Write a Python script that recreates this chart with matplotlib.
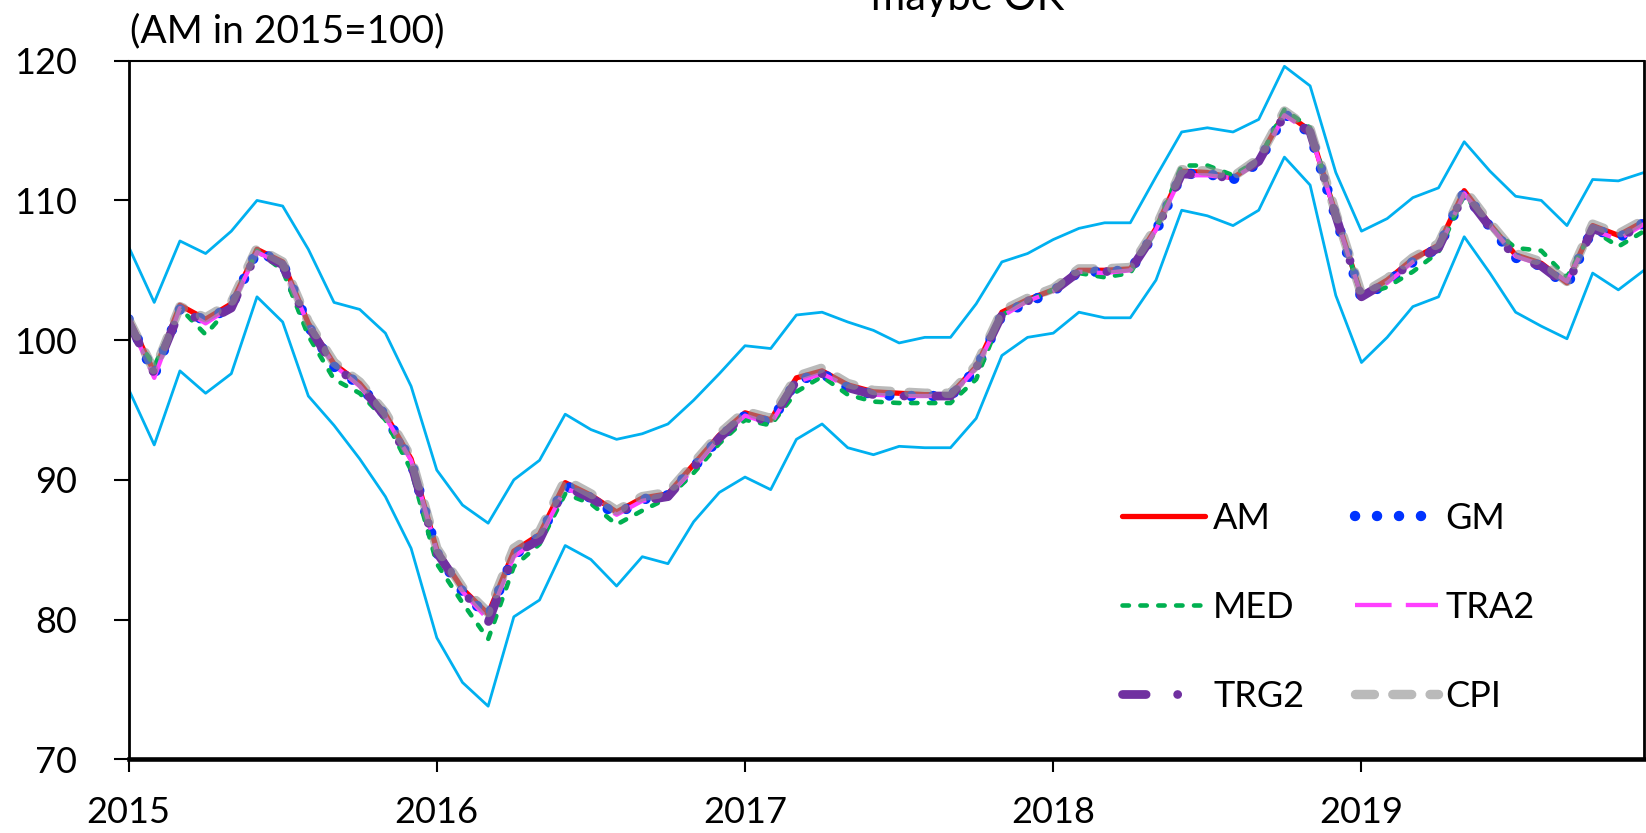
import numpy as np
import matplotlib
matplotlib.use("Agg")
import matplotlib.pyplot as plt

plt.rcParams['font.family'] = ['Lato', 'DejaVu Sans']

years = ["2015", "2016", "2017", "2018", "2019"]
year_pos = [0, 12, 24, 36, 48]

# monthly index values, Jan 2015 .. Dec 2019
AM = [101.6, 97.7, 102.5, 101.5, 102.6, 106.5, 105.6, 101.2, 98.3, 96.9,
      94.7, 91.5, 85.0, 82.2, 80.4, 84.9, 86.1, 89.8, 88.9, 87.7,
      88.7, 89.0, 91.1, 93.2, 94.8, 94.3, 97.3, 97.8, 96.8, 96.3,
      96.2, 96.1, 96.1, 98.1, 102.0, 102.9, 103.6, 105.0, 105.0, 105.1,
      108.0, 112.1, 112.0, 111.6, 112.9, 116.3, 115.0, 109.0, 103.2, 104.3,
      105.8, 106.8, 110.7, 108.3, 106.1, 105.5, 104.1, 108.2, 107.5, 108.5]
GM = [101.5, 97.5, 102.2, 101.4, 102.4, 106.4, 105.5, 101.0, 98.1, 96.8,
      94.6, 91.3, 84.8, 82.0, 80.2, 84.6, 85.9, 89.6, 88.7, 87.5,
      88.6, 88.9, 90.9, 93.0, 94.6, 94.1, 97.1, 97.6, 96.6, 96.1,
      96.0, 96.0, 96.0, 97.9, 101.8, 102.7, 103.5, 104.9, 104.9, 105.0,
      107.8, 111.9, 111.9, 111.5, 112.7, 116.2, 114.8, 108.8, 103.0, 104.1,
      105.6, 106.6, 110.6, 108.1, 105.9, 105.3, 103.9, 108.0, 107.3, 108.4]
MED = [101.2, 98.1, 102.3, 100.4, 102.5, 106.4, 105.0, 100.3, 97.2, 96.2,
       94.3, 90.7, 84.0, 81.2, 78.6, 83.8, 85.4, 89.0, 88.3, 86.8,
       87.8, 88.7, 90.5, 92.6, 94.3, 93.9, 96.3, 97.4, 96.1, 95.6,
       95.5, 95.5, 95.5, 97.2, 101.8, 102.8, 103.6, 104.8, 104.5, 104.8,
       107.9, 112.5, 112.5, 111.8, 112.9, 116.5, 115.2, 108.9, 103.2, 103.8,
       104.9, 106.3, 110.4, 108.1, 106.6, 106.4, 104.5, 107.9, 106.7, 107.8]
TRA2 = [101.4, 97.3, 102.3, 101.2, 102.4, 106.3, 105.4, 101.1, 98.2, 96.7,
        94.5, 91.4, 84.9, 82.0, 80.0, 84.5, 85.8, 89.4, 88.7, 87.5,
        88.5, 88.8, 90.8, 93.0, 94.6, 94.0, 97.0, 97.6, 96.7, 96.1,
        96.0, 96.0, 96.0, 98.0, 101.7, 102.8, 103.5, 104.9, 104.8, 105.0,
        107.9, 111.8, 111.8, 111.6, 112.7, 116.1, 114.9, 108.9, 103.1, 104.1,
        105.6, 106.5, 110.5, 108.2, 106.0, 105.4, 104.2, 107.9, 107.2, 108.3]
TRG2 = [101.3, 97.6, 102.1, 101.3, 102.3, 106.3, 105.4, 101.0, 98.1, 96.8,
        94.5, 91.2, 84.8, 82.1, 79.8, 84.7, 85.7, 89.5, 88.7, 87.6,
        88.5, 88.8, 90.9, 93.0, 94.7, 94.1, 97.1, 97.6, 96.6, 96.1,
        96.0, 96.0, 96.0, 98.0, 101.8, 102.8, 103.5, 104.9, 104.9, 105.0,
        107.8, 111.9, 111.8, 111.6, 112.8, 116.1, 114.9, 108.9, 103.1, 104.2,
        105.6, 106.6, 110.5, 108.1, 105.9, 105.3, 103.9, 108.0, 107.3, 108.3]
CPI = [101.5, 97.8, 102.4, 101.6, 102.7, 106.6, 105.6, 101.3, 98.4, 97.0,
       94.8, 91.6, 85.1, 82.3, 80.5, 85.1, 86.3, 90.0, 89.0, 87.8,
       88.8, 89.1, 91.2, 93.3, 94.9, 94.4, 97.4, 98.0, 96.9, 96.4,
       96.3, 96.2, 96.2, 98.2, 102.1, 103.0, 103.7, 105.1, 105.1, 105.2,
       108.1, 112.2, 112.1, 111.7, 113.0, 116.4, 115.1, 109.1, 103.3, 104.4,
       105.9, 106.9, 110.8, 108.4, 106.2, 105.6, 104.2, 108.3, 107.6, 108.6]
upper = [106.7, 102.7, 107.1, 106.2, 107.8, 110.0, 109.6, 106.5, 102.7, 102.2,
         100.5, 96.7, 90.7, 88.2, 86.9, 90.0, 91.4, 94.7, 93.6, 92.9,
         93.3, 94.0, 95.7, 97.6, 99.6, 99.4, 101.8, 102.0, 101.3, 100.7,
         99.8, 100.2, 100.2, 102.6, 105.6, 106.2, 107.2, 108.0, 108.4, 108.4,
         111.7, 114.9, 115.2, 114.9, 115.8, 119.6, 118.2, 112.0, 107.8, 108.7,
         110.2, 110.9, 114.2, 112.1, 110.3, 110.0, 108.2, 111.5, 111.4, 112.0]
lower = [96.5, 92.5, 97.8, 96.2, 97.6, 103.1, 101.3, 96.0, 93.9, 91.5,
         88.8, 85.1, 78.7, 75.5, 73.8, 80.2, 81.4, 85.3, 84.3, 82.4,
         84.5, 84.0, 87.0, 89.1, 90.2, 89.3, 92.9, 94.0, 92.3, 91.8,
         92.4, 92.3, 92.3, 94.4, 98.9, 100.2, 100.5, 102.0, 101.6, 101.6,
         104.3, 109.3, 108.9, 108.2, 109.3, 113.1, 111.1, 103.2, 98.4, 100.2,
         102.4, 103.1, 107.4, 104.8, 102.0, 101.0, 100.1, 104.8, 103.6, 105.0]

x = np.arange(len(AM))

fig = plt.figure(figsize=(16.46, 8.33), dpi=100)
ax = fig.add_axes([0.0781, 0.0885, 0.9207, 0.8386])

ax.plot(x, upper, color='#00B0F0', lw=2)
ax.plot(x, lower, color='#00B0F0', lw=2)

h_am, = ax.plot(x, AM, color='#FF0000', lw=3.8, solid_capstyle='round',
                solid_joinstyle='round', label='AM')
h_gm, = ax.plot(x, GM, color='#0033FF', lw=7.5, linestyle=(0, (0.01, 2.1)),
                dash_capstyle='round', label='GM')
h_med, = ax.plot(x, MED, color='#00B050', lw=3.3, linestyle=(0, (1.4, 2.5)),
                 dash_capstyle='round', label='MED')
h_tra, = ax.plot(x, TRA2, color='#FF40FF', lw=3.1, linestyle=(0, (8.5, 3.3)),
                 label='TRA2')
h_trg, = ax.plot(x, TRG2, color='#7030A0', lw=6.3,
                 linestyle=(0, (2.7, 3.6, 0.01, 3.6)),
                 dash_capstyle='round', label='TRG2')
h_cpi, = ax.plot(x, CPI, color='#8C8C8C', alpha=0.6, lw=6.8,
                 linestyle=(0, (2.0, 1.95)), dash_capstyle='round', label='CPI')

ax.set_xlim(0, len(AM) - 1)
ax.set_ylim(70, 120)
ax.set_yticks([70, 80, 90, 100, 110, 120])
ax.set_xticks(year_pos)
ax.set_xticklabels(years)

ax.tick_params(axis='both', direction='out', labelsize=26, width=1.5)
ax.tick_params(axis='y', length=10.8, pad=26)
ax.tick_params(axis='x', length=9.4, pad=17)

ax.spines['bottom'].set_linewidth(3.3)
ax.spines['left'].set_linewidth(2)
ax.spines['top'].set_linewidth(1.5)
ax.spines['right'].set_linewidth(2)

fig.text(0.588, 0.988, 'maybe OK', ha='center', va='baseline', fontsize=30)
fig.text(130 / 1646, 1 - 42 / 833, '(AM in 2015=100)', ha='left',
         va='baseline', fontsize=28)

handles = [h_am, h_med, h_trg, h_gm, h_tra, h_cpi]
ax.legend(handles, [h.get_label() for h in handles], ncol=2,
          loc='upper left', bbox_to_anchor=(1122 / 1646, 1 - 502 / 833),
          bbox_transform=fig.transFigure, frameon=False, fontsize=26,
          handlelength=2.3, handletextpad=0.22, columnspacing=1.4,
          labelspacing=1.55, borderpad=0, borderaxespad=0)

fig.savefig('out.png', dpi=100)
